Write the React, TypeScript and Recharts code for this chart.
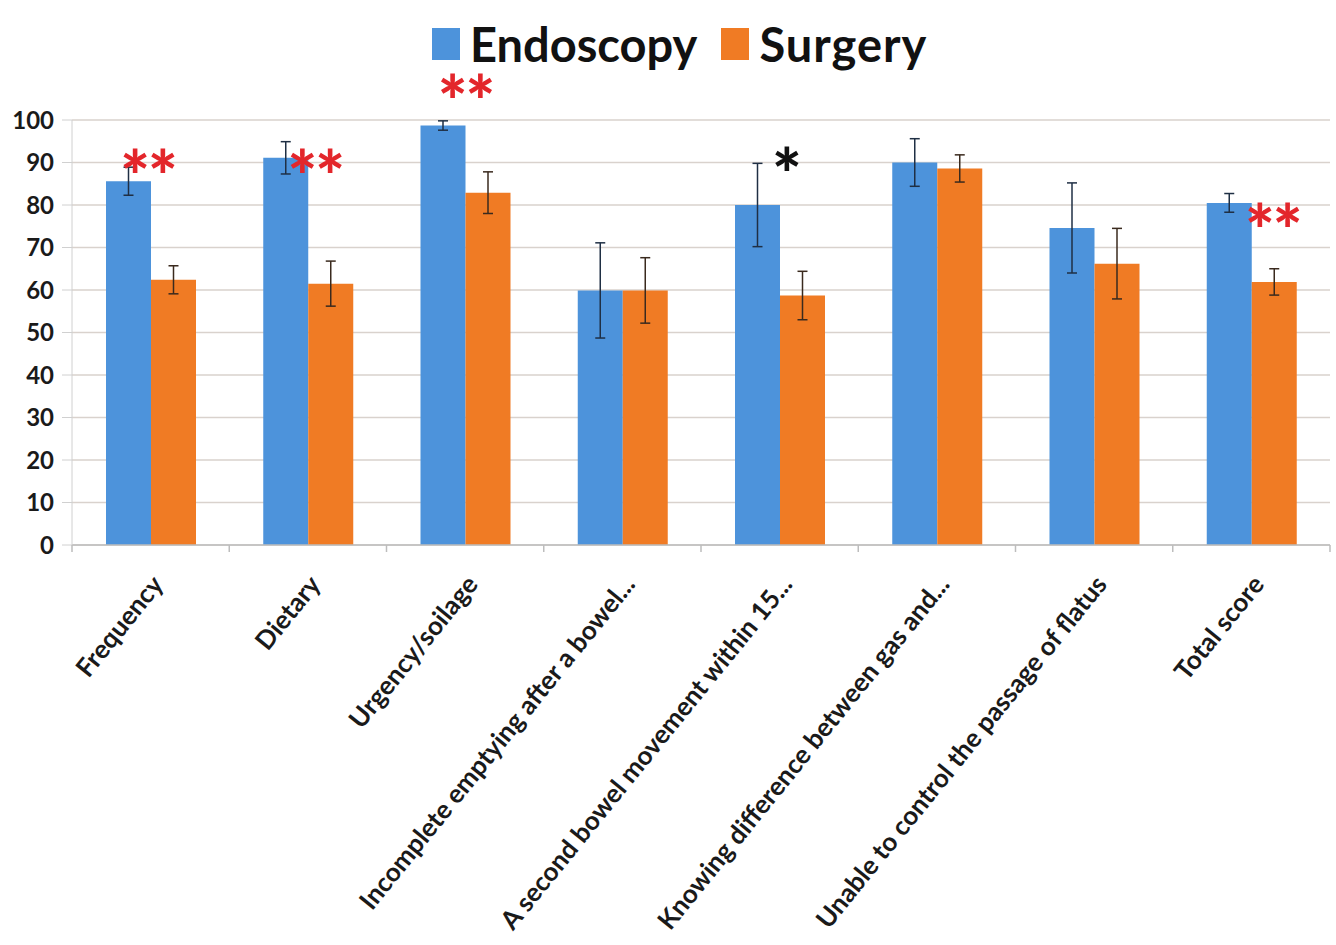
import React from "react";
import {
  BarChart,
  Bar,
  XAxis,
  YAxis,
  CartesianGrid,
  ErrorBar,
  LabelList,
  Legend,
} from "recharts";

// --- Categories and values ---
const categories = [
  "Frequency",
  "Dietary",
  "Urgency/soilage",
  "Incomplete emptying after a bowel...",
  "A second bowel movement within 15...",
  "Knowing difference between gas and...",
  "Unable to control the passage of flatus",
  "Total score",
];
const endoscopy = [85.6, 91.1, 98.7, 59.9, 80.0, 90.0, 74.6, 80.5];
const endoscopyErr = [3.3, 3.8, 1.1, 11.2, 9.8, 5.6, 10.6, 2.2];
const surgery = [62.4, 61.5, 82.9, 59.9, 58.7, 88.6, 66.2, 61.9];
const surgeryErr = [3.3, 5.3, 4.9, 7.7, 5.7, 3.2, 8.3, 3.1];
const yTicks = [0, 10, 20, 30, 40, 50, 60, 70, 80, 90, 100];

// significance marks and the value level they sit at
const significance = ["**", "**", "**", "", "*", "", "", "**"];
const sigLevel = [90.7, 90.7, 108.2, 0, 91, 0, 0, 78];

const BLUE = "#4d93db";
const ORANGE = "#f07b24";
const RED = "#e3262b";
const FONT = "Lato, 'Open Sans', sans-serif";

// horizontal nudge of each mark from the endoscopy/surgery boundary (px)
const sigShift = [-3, 7, 0, 0, 6, 0, 0, 21];

const data = categories.map((name, i) => ({
  name,
  endoscopy: endoscopy[i],
  endoscopyErr: endoscopyErr[i],
  surgery: surgery[i],
  surgeryErr: surgeryErr[i],
}));

const series = [
  { key: "endoscopy", label: "Endoscopy", color: BLUE },
  { key: "surgery", label: "Surgery", color: ORANGE },
];

const SigMark = (props) => {
  const { x, y, width, height, value, index } = props;
  const mark = significance[index];
  if (!mark) return null;
  // pixels per unit from the bar's own geometry
  const perUnit = height / value;
  const cy = y + height - sigLevel[index] * perUnit;
  return (
    <text
      x={x + sigShift[index]}
      y={cy + 42}
      textAnchor="middle"
      fontFamily={FONT}
      fontWeight={900}
      fontSize={70}
      letterSpacing={-2}
      fill={mark === "*" ? "#111" : RED}
    >
      {mark}
    </text>
  );
};

const XTick = (props) => {
  const { x, y, payload, index } = props;
  const half = payload.offset || 0;
  return (
    <g>
      <line x1={x - half} x2={x - half} y1={y} y2={y + 7} stroke="#bdbdbd" strokeWidth={1.5} />
      {index === categories.length - 1 && (
        <line x1={x + half} x2={x + half} y1={y} y2={y + 7} stroke="#bdbdbd" strokeWidth={1.5} />
      )}
      <text
        transform={`translate(${x + 14},${y + 40}) rotate(-51)`}
        textAnchor="end"
        fontFamily={FONT}
        fontWeight={700}
        fontSize={26}
        fill="#1a1a1a"
      >
        {payload.value}
      </text>
    </g>
  );
};

const LegendBox = () => (
  <div style={{ display: "flex", alignItems: "center", fontFamily: FONT }}>
    {series.map((s, i) => (
      <div
        key={s.key}
        style={{ display: "flex", alignItems: "center", marginLeft: i ? 24 : 0 }}
      >
        <div style={{ width: 28, height: 32, background: s.color, marginRight: 10 }} />
        <span style={{ fontSize: 47, fontWeight: 700, color: "#111", lineHeight: "56px", letterSpacing: i ? 1 : 0 }}>
          {s.label}
        </span>
      </div>
    ))}
  </div>
);

export default function App() {
  return (
    <div style={{ position: "absolute", left: 0, top: 0, width: 1336, height: 945, background: "#fff" }}>
      <BarChart
        width={1336}
        height={945}
        data={data}
        margin={{ top: 120, right: 6, left: 0, bottom: 370 }}
        barGap={0}
        barSize={45}
      >
        <CartesianGrid vertical={false} stroke="#d9d2cd" strokeWidth={1.5} />
        <XAxis
          dataKey="name"
          interval={0}
          height={30}
          tickSize={0}
          tickMargin={0}
          tickLine={false}
          axisLine={{ stroke: "#bdbdbd", strokeWidth: 1.5 }}
          tick={<XTick />}
        />
        <YAxis
          width={72}
          domain={[0, 100]}
          ticks={yTicks}
          interval={0}
          tickSize={10}
          tickMargin={8}
          tickLine={{ stroke: "#d0d0d0" }}
          axisLine={{ stroke: "#d0d0d0" }}
          tick={{ fill: "#1a1a1a", fontSize: 24, fontWeight: 700, fontFamily: FONT }}
        />
        <Legend
          layout="horizontal"
          verticalAlign="middle"
          align="center"
          content={<LegendBox />}
          wrapperStyle={{ top: 16, left: 432, width: "auto" }}
        />
        <Bar dataKey="endoscopy" name="Endoscopy" fill={BLUE} isAnimationActive={false}>
          <ErrorBar
            dataKey="endoscopyErr"
            direction="y"
            width={5}
            stroke="#1f2f44"
            strokeWidth={1.5}
            isAnimationActive={false}
          />
        </Bar>
        <Bar dataKey="surgery" name="Surgery" fill={ORANGE} isAnimationActive={false}>
          <ErrorBar
            dataKey="surgeryErr"
            direction="y"
            width={5}
            stroke="#3a2a1e"
            strokeWidth={1.5}
            isAnimationActive={false}
          />
          <LabelList dataKey="surgery" content={<SigMark />} />
        </Bar>
      </BarChart>
    </div>
  );
}
